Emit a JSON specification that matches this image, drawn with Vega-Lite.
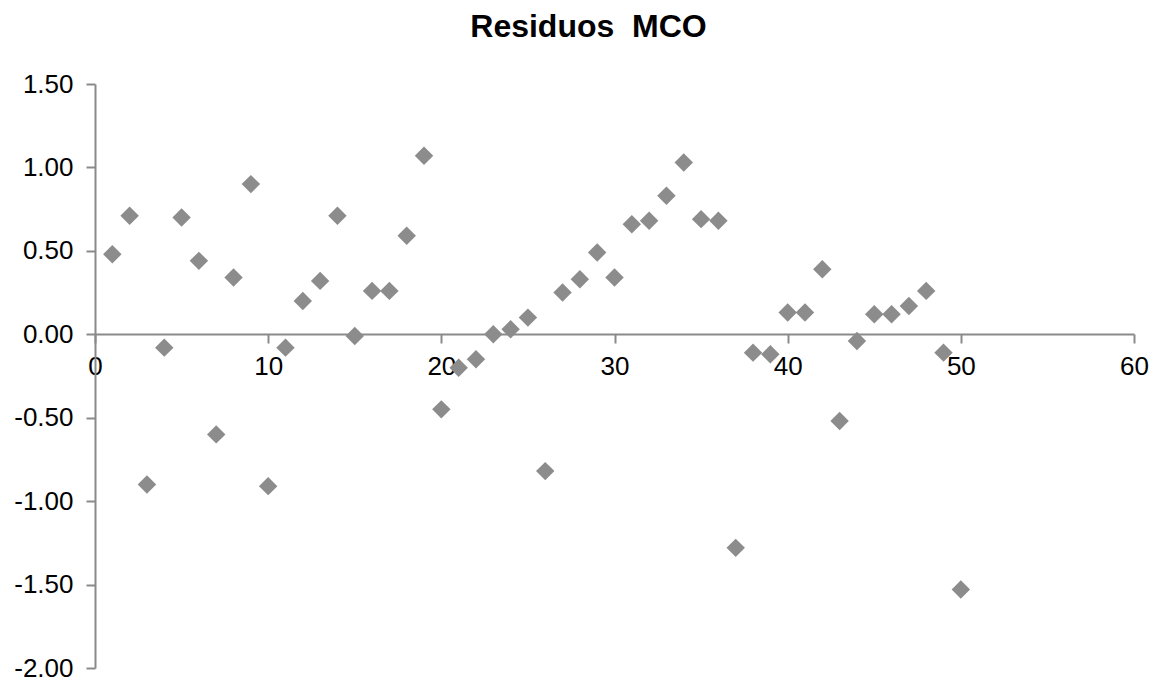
{
  "$schema": "https://vega.github.io/schema/vega-lite/v6.json",
  "autosize": {"type": "none"},
  "width": 1039,
  "height": 584,
  "padding": {"left": 95, "top": 84, "right": 20, "bottom": 15},
  "background": "white",
  "title": {"text": "Residuos\u00a0 MCO", "font": "Liberation Sans", "fontSize": 32, "fontWeight": "bold", "color": "#000000", "anchor": "middle", "dx": -26, "offset": 27},
  "config": {"view": {"stroke": null}, "font": "Liberation Sans"},
  "data": {"values": [
    {"obs": 1, "res": 0.48}, {"obs": 2, "res": 0.71}, {"obs": 3, "res": -0.90}, {"obs": 4, "res": -0.08},
    {"obs": 5, "res": 0.70}, {"obs": 6, "res": 0.44}, {"obs": 7, "res": -0.60}, {"obs": 8, "res": 0.34},
    {"obs": 9, "res": 0.90}, {"obs": 10, "res": -0.91}, {"obs": 11, "res": -0.08}, {"obs": 12, "res": 0.20},
    {"obs": 13, "res": 0.32}, {"obs": 14, "res": 0.71}, {"obs": 15, "res": -0.01}, {"obs": 16, "res": 0.26},
    {"obs": 17, "res": 0.26}, {"obs": 18, "res": 0.59}, {"obs": 19, "res": 1.07}, {"obs": 20, "res": -0.45},
    {"obs": 21, "res": -0.20}, {"obs": 22, "res": -0.15}, {"obs": 23, "res": 0.00}, {"obs": 24, "res": 0.03},
    {"obs": 25, "res": 0.10}, {"obs": 26, "res": -0.82}, {"obs": 27, "res": 0.25}, {"obs": 28, "res": 0.33},
    {"obs": 29, "res": 0.49}, {"obs": 30, "res": 0.34}, {"obs": 31, "res": 0.66}, {"obs": 32, "res": 0.68},
    {"obs": 33, "res": 0.83}, {"obs": 34, "res": 1.03}, {"obs": 35, "res": 0.69}, {"obs": 36, "res": 0.68},
    {"obs": 37, "res": -1.28}, {"obs": 38, "res": -0.11}, {"obs": 39, "res": -0.12}, {"obs": 40, "res": 0.13},
    {"obs": 41, "res": 0.13}, {"obs": 42, "res": 0.39}, {"obs": 43, "res": -0.52}, {"obs": 44, "res": -0.04},
    {"obs": 45, "res": 0.12}, {"obs": 46, "res": 0.12}, {"obs": 47, "res": 0.17}, {"obs": 48, "res": 0.26},
    {"obs": 49, "res": -0.11}, {"obs": 50, "res": -1.53}
  ]},
  "mark": {"type": "point", "shape": "diamond", "filled": true, "size": 340, "color": "#8c8c8c", "opacity": 1},
  "encoding": {
    "x": {"field": "obs", "type": "quantitative", "title": null,
      "scale": {"domain": [0, 60], "nice": false, "zero": false},
      "axis": {"values": [0, 10, 20, 30, 40, 50, 60], "offset": -334, "grid": false, "labelFlush": false, "labelOverlap": false, "domainColor": "#8a8a8a", "tickColor": "#8a8a8a", "tickSize": 9, "labelFontSize": 26, "labelColor": "#000000", "labelPadding": 10, "labelFont": "Liberation Sans", "domainWidth": 2, "tickWidth": 2}},
    "y": {"field": "res", "type": "quantitative", "title": null,
      "scale": {"domain": [-2, 1.5], "nice": false, "zero": false},
      "axis": {"values": [-2, -1.5, -1, -0.5, 0, 0.5, 1, 1.5], "format": ".2f", "labelExpr": "replace(datum.label, '\u2212', '-')", "grid": false, "labelFlush": false, "labelOverlap": false, "domainColor": "#8a8a8a", "tickColor": "#8a8a8a", "tickSize": 9, "labelFontSize": 26, "labelColor": "#000000", "labelPadding": 13, "labelFont": "Liberation Sans", "domainWidth": 2, "tickWidth": 2}}
  }
}
